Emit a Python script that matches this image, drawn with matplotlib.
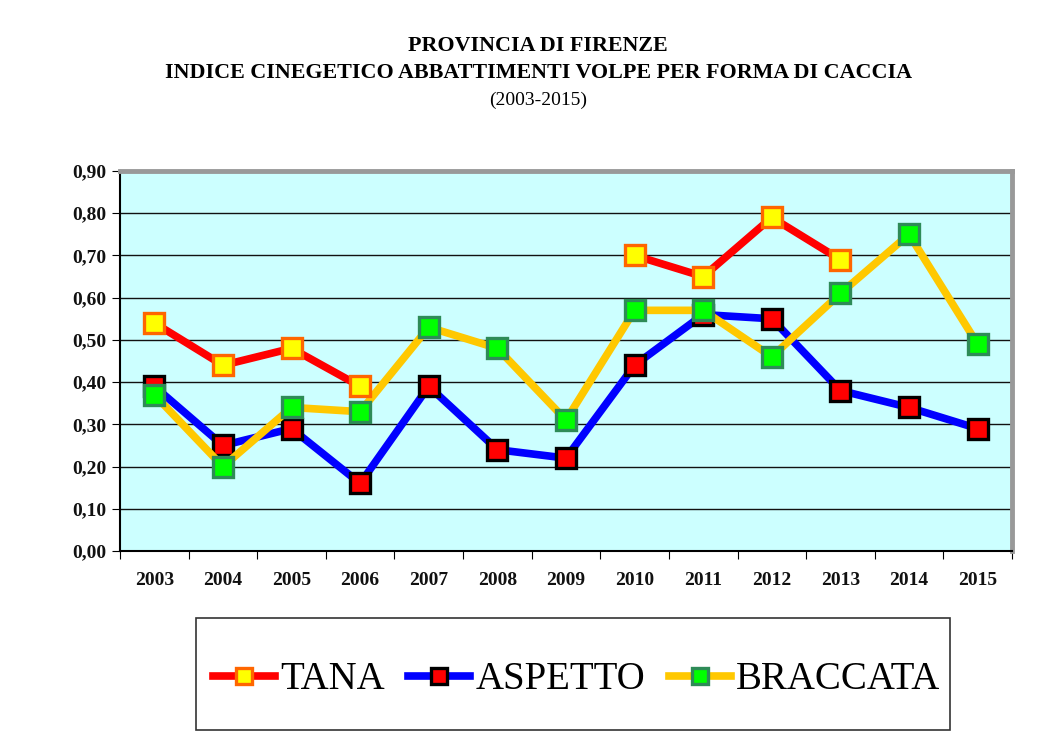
import numpy as np
from matplotlib import pyplot as plt
from matplotlib.patches import Rectangle
from matplotlib.ticker import FixedLocator, NullFormatter

years = ['2003', '2004', '2005', '2006', '2007', '2008', '2009',
         '2010', '2011', '2012', '2013', '2014', '2015']
tana = [0.54, 0.44, 0.48, 0.39, np.nan, np.nan, np.nan,
        0.70, 0.65, 0.79, 0.69, np.nan, np.nan]
aspetto = [0.39, 0.25, 0.29, 0.16, 0.39, 0.24, 0.22,
           0.44, 0.56, 0.55, 0.38, 0.34, 0.29]
braccata = [0.37, 0.20, 0.34, 0.33, 0.53, 0.48, 0.31,
            0.57, 0.57, 0.46, 0.61, 0.75, 0.49]

plt.rcParams['font.family'] = ['Liberation Serif', 'DejaVu Serif']

fig = plt.figure(figsize=(10.53, 7.51), dpi=100)
ax = fig.add_axes([0.114, 0.2663, 0.847, 0.5060])
ax.set_facecolor('#CCFFFF')

x = np.arange(len(years))
series = [
    ('ASPETTO', aspetto, '#0000FF', '#FF0000', '#000000', 3),
    ('BRACCATA', braccata, '#FFC800', '#00FF00', '#2E8B57', 4),
    ('TANA', tana, '#FF0000', '#FFFF00', '#FF6600', 5),
]
handles = {}
for name, vals, lc, fc, ec, z in series:
    h, = ax.plot(x, vals, color=lc, lw=5.5, marker='s', markersize=15,
                 markerfacecolor=fc, markeredgecolor=ec, markeredgewidth=2.4,
                 zorder=z, label=name)
    handles[name] = h

ax.set_xlim(-0.5, len(years) - 0.5)
ax.set_ylim(0, 0.9)
yt = np.arange(0, 0.91, 0.1)
ax.set_yticks(yt)
ax.set_yticklabels([f'{v:.2f}'.replace('.', ',') for v in yt],
                   fontsize=14, fontweight='bold', color='#111111')
ax.yaxis.grid(True, color='#111111', lw=1.0)
ax.set_axisbelow(True)

ax.xaxis.set_major_locator(FixedLocator(np.arange(-0.5, len(years), 1)))
ax.xaxis.set_major_formatter(NullFormatter())
ax.xaxis.set_minor_locator(FixedLocator(x))
ax.set_xticklabels(years, minor=True, fontsize=14, fontweight='bold', color='#111111')
ax.tick_params(axis='x', which='minor', length=0, pad=15)
ax.tick_params(axis='x', which='major', length=6, direction='out')
ax.tick_params(axis='y', length=6, direction='out', pad=4)

for side in ['top', 'right']:
    ax.spines[side].set_color('#999999')
    ax.spines[side].set_linewidth(3.5)
for side in ['left', 'bottom']:
    ax.spines[side].set_color('#000000')
    ax.spines[side].set_linewidth(1.5)

fig.text(0.511, 0.939, 'PROVINCIA DI FIRENZE', ha='center', va='center',
         fontsize=15.8, fontweight='bold')
fig.text(0.511, 0.903, 'INDICE CINEGETICO ABBATTIMENTI VOLPE PER FORMA DI CACCIA',
         ha='center', va='center', fontsize=15.8, fontweight='bold')
fig.text(0.511, 0.866, '(2003-2015)', ha='center', va='center', fontsize=14)

leg = fig.legend([handles['TANA'], handles['ASPETTO'], handles['BRACCATA']],
                 ['TANA', 'ASPETTO', 'BRACCATA'],
                 loc='center', bbox_to_anchor=(0.5475, 0.095), ncol=3,
                 fontsize=28, frameon=False, handlelength=1.6,
                 handletextpad=0.13, columnspacing=0.6, borderpad=0,
                 markerscale=0.8)

fig.patches.append(Rectangle((0.186, 0.028), 0.716, 0.149, transform=fig.transFigure,
                             fill=False, edgecolor='#333333', lw=1.2))

fig.savefig('out.png', dpi=100)
